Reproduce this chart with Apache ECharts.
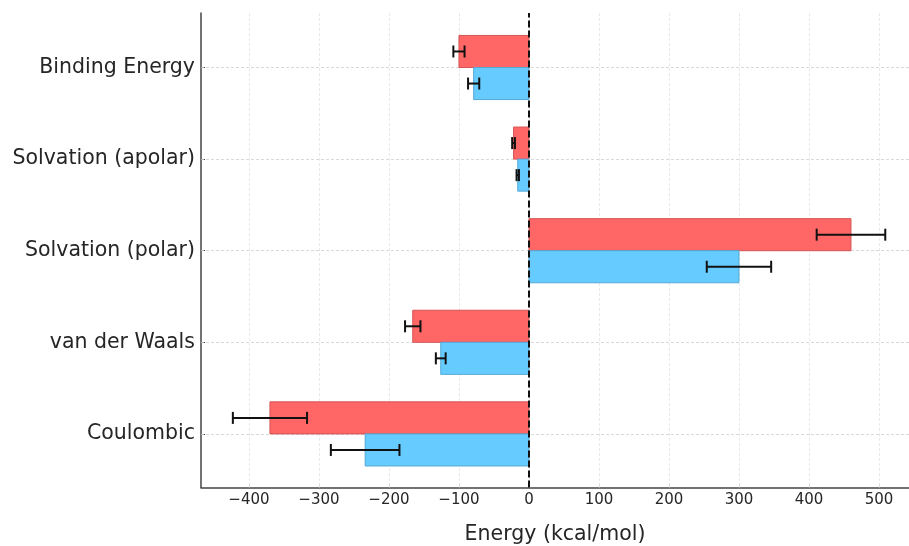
<!DOCTYPE html>
<html><head><meta charset="utf-8">
<script src="https://cdn.jsdelivr.net/npm/echarts@6/dist/echarts.min.js"></script>
<style>html,body{margin:0;padding:0;background:#fff}#c{width:909px;height:546px}</style>
</head><body><div id="c"></div>
<script>
var categories = ['Coulombic', 'van der Waals', 'Solvation (polar)', 'Solvation (apolar)', 'Binding Energy'];
var redValues = [-370, -166, 460, -22, -100];
var redErrors = [53, 11, 49, 2, 8];
var blueValues = [-234, -126, 300, -16, -79];
var blueErrors = [49, 7, 46, 1.7, 8];
var xTicks = [-400, -300, -200, -100, 0, 100, 200, 300, 400, 500];

var BAR_H = 0.35;
function barSeries(vals, errs, offset, fill, edge) {
  var data = vals.map(function (v, i) { return [v, i, errs[i]]; });
  return {
    type: 'custom',
    data: data,
    encode: { x: 0, y: 1 },
    z: 3,
    renderItem: function (params, api) {
      var v = api.value(0), i = api.value(1), e = api.value(2);
      var yc = i + offset;
      var p0 = api.coord([0, yc]);
      var p1 = api.coord([v, yc]);
      var h = api.size([0, BAR_H])[1];
      var x = Math.min(p0[0], p1[0]);
      var w = Math.abs(p1[0] - p0[0]);
      var eL = api.coord([v - e, yc]);
      var eR = api.coord([v + e, yc]);
      var cap = 6;
      return {
        type: 'group',
        children: [
          { type: 'rect', shape: { x: x, y: p0[1] - h / 2, width: w, height: h },
            style: { fill: fill, stroke: edge, lineWidth: 1 } },
          { type: 'line', shape: { x1: eL[0], y1: eL[1], x2: eR[0], y2: eR[1] },
            style: { stroke: '#111', lineWidth: 2 }, z2: 5 },
          { type: 'line', shape: { x1: eL[0], y1: eL[1] - cap, x2: eL[0], y2: eL[1] + cap },
            style: { stroke: '#111', lineWidth: 2 }, z2: 5 },
          { type: 'line', shape: { x1: eR[0], y1: eR[1] - cap, x2: eR[0], y2: eR[1] + cap },
            style: { stroke: '#111', lineWidth: 2 }, z2: 5 }
        ]
      };
    }
  };
}

var chart = echarts.init(document.getElementById('c'), null, { renderer: 'canvas' });
var FONT = 'DejaVu Sans';
var hLines = categories.map(function (c, i) { return { yAxis: i }; });
var red = barSeries(redValues, redErrors, 0.175, '#ff6666', '#d45555');
var blue = barSeries(blueValues, blueErrors, -0.175, '#66ccff', '#55a8d6');
red.markLine = {
  silent: true, symbol: 'none', label: { show: false }, z: 1,
  lineStyle: { color: '#cfcfcf', type: [3, 2], width: 0.8 },
  data: hLines
};
blue.markLine = {
  silent: true, symbol: 'none', label: { show: false }, z: 10,
  lineStyle: { color: '#111', type: [7, 3], width: 2 },
  data: [{ xAxis: 0 }]
};

chart.setOption({
  animation: false,
  backgroundColor: '#fff',
  grid: { left: 201, right: 0, top: 13, bottom: 58.5, containLabel: false, outerBoundsMode: 'none' },
  xAxis: {
    type: 'value', min: -468.5, max: 542.9, splitNumber: 10,
    name: 'Energy (kcal/mol)', nameLocation: 'middle', nameGap: 37,
    nameTextStyle: { fontFamily: FONT, fontSize: 20.5, color: '#262626' },
    axisLine: { show: true, onZero: false, lineStyle: { color: '#444', width: 1.5 } },
    axisTick: { show: true, inside: true, length: 4, lineStyle: { color: '#ddd' }, customValues: xTicks },
    axisLabel: {
      fontFamily: FONT, fontSize: 15, color: '#262626', margin: 5,
      customValues: xTicks,
      formatter: function (v) {
        if (Math.abs(v % 100) > 1e-6) return '';
        return v < 0 ? '\u2212' + Math.abs(v) : String(v);
      }
    },
    splitLine: { show: true, lineStyle: { color: '#e3e3e3', type: [3, 2], width: 0.8 } }
  },
  yAxis: {
    type: 'value', min: -0.585, max: 4.595,
    axisLine: { show: true, onZero: false, lineStyle: { color: '#444', width: 1.5 } },
    axisTick: { show: true, inside: true, length: 4, lineStyle: { color: '#444' }, customValues: [0, 1, 2, 3, 4] },
    axisLabel: {
      fontFamily: FONT, fontSize: 20.5, color: '#262626', margin: 6,
      padding: [4, 0, 0, 0],
      customValues: [0, 1, 2, 3, 4],
      formatter: function (v) {
        return (Math.abs(v - Math.round(v)) < 1e-6 && categories[Math.round(v)]) ? categories[Math.round(v)] : '';
      }
    },
    splitLine: { show: false }
  },
  series: [red, blue]
});
</script></body></html>
